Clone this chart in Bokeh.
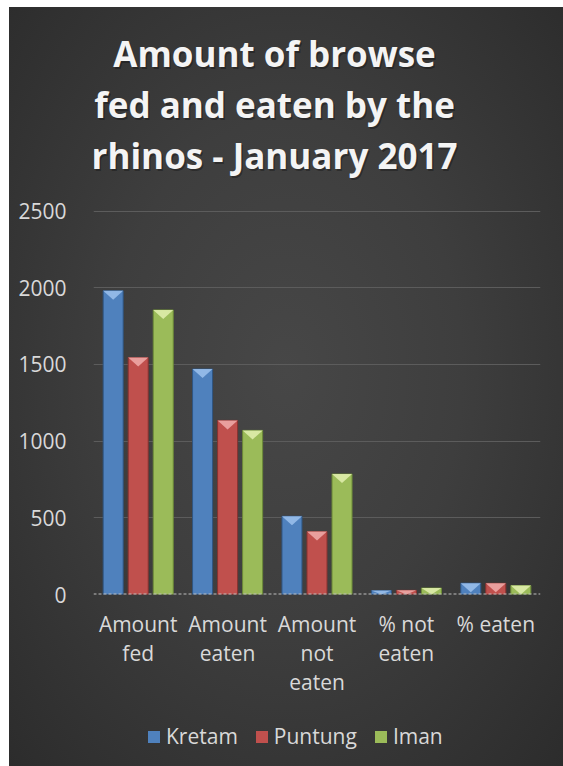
import numpy as np
from bokeh.plotting import figure
from bokeh.layouts import column
from bokeh.models import (Range1d, FixedTicker, Label, Legend, LegendItem, Span,
                          ColumnDataSource)
from bokeh.embed import file_html
from bokeh.resources import INLINE

# ---- data ----
categories = ["Amount\nfed", "Amount\neaten", "Amount\nnot\neaten", "% not\neaten", "% eaten"]
series = ["Kretam", "Puntung", "Iman"]
kretam = [1980, 1470, 510, 26, 74]
puntung = [1545, 1135, 410, 27, 73]
iman = [1855, 1070, 785, 42, 58]
y_ticks = [0, 500, 1000, 1500, 2000, 2500]
title_lines = ["Amount of browse", "fed and eaten by the", "rhinos - January 2017"]

# ---- style ----
FONT = "Open Sans"
BG_CSS = "radial-gradient(ellipse at 50% 48%, #474747 0%, #3e3e3e 45%, #2c2c2c 100%)"
TXT = "#d9d9d9"
fills = ["#4f81bd", "#c0504d", "#9bbb59"]
bevels = ["#95bbe8", "#eba3a1", "#dbeaa8"]
edges = ["#2f5582", "#873230", "#6c8a38"]
offsets = [-0.28, 0.0, 0.28]
BAR_W = 0.224
BEVEL_PX = 9
W = 554
TITLE_H, MAIN_H, LEG_H = 189, 516, 54

Y0, Y1 = 0, 2510
FRAME_H = 385


def bare(fig):
    fig.background_fill_color = None
    fig.border_fill_color = None
    fig.outline_line_color = None
    return fig


# ---- title figure ----
t = bare(figure(width=W, height=TITLE_H, x_range=Range1d(0, 1), y_range=Range1d(0, 1),
                output_backend="svg", toolbar_location=None, title=None,
                x_axis_location=None, y_axis_location=None, min_border=0))
t.grid.visible = False
for i, line in enumerate(title_lines):
    y = 143 - 51 * i
    t.add_layout(Label(x=182.5, y=y - 1.5, x_units="screen", y_units="screen",
                       text=line, text_align="center", text_baseline="alphabetic",
                       text_font_size="35px", text_font_style="bold",
                       text_color="#000000", text_alpha=0.3, text_font=FONT))
    t.add_layout(Label(x=181, y=y, x_units="screen", y_units="screen",
                       text=line, text_align="center", text_baseline="alphabetic",
                       text_font_size="35px", text_font_style="bold",
                       text_color="#f4f4f4", text_font=FONT))

# ---- main chart ----
p = bare(figure(width=W, height=MAIN_H, x_range=Range1d(-0.5, 4.5), y_range=Range1d(Y0, Y1),
                output_backend="svg", toolbar_location=None, title=None,
                min_border_left=84, min_border_right=23, min_border_top=13,
                min_border_bottom=118))

bevel_units = BEVEL_PX * (Y1 - Y0) / FRAME_H
xs_base = np.arange(len(categories))
for vals, off, fc, bc, ec in zip([kretam, puntung, iman], offsets, fills, bevels, edges):
    x = xs_base + off
    src = ColumnDataSource(dict(x=x, top=vals))
    p.vbar(x="x", top="top", width=BAR_W, source=src, fill_color=fc,
           line_color=ec, line_width=1)
    txs, tys = [], []
    for xi, v in zip(x, vals):
        txs.append([xi - BAR_W / 2, xi + BAR_W / 2, xi])
        tys.append([v, v, max(v - bevel_units, 0)])
    p.patches(txs, tys, fill_color=bc, line_color=None, fill_alpha=0.95)

p.add_layout(Span(location=0, dimension="width", line_color="#bdbdbd",
                  line_dash="3 2", line_width=2))

p.yaxis.ticker = FixedTicker(ticks=y_ticks)
p.ygrid.ticker = FixedTicker(ticks=y_ticks)
p.ygrid.grid_line_color = "#5c5c5c"
p.xgrid.visible = False
for ax in (p.xaxis[0], p.yaxis[0]):
    ax.axis_line_color = None
    ax.major_tick_line_color = None
    ax.minor_tick_line_color = None
    ax.major_label_text_color = TXT
    ax.major_label_text_font = FONT
    ax.major_label_text_font_size = "21px"
p.yaxis.major_label_standoff = 21
p.xaxis.ticker = FixedTicker(ticks=list(range(len(categories))))
p.xaxis.major_label_overrides = {i: c for i, c in enumerate(categories)}
p.xaxis.major_label_standoff = 9
p.xaxis.major_label_text_line_height = 1.04

# ---- legend figure ----
lg = bare(figure(width=W, height=LEG_H, x_range=Range1d(0, 1), y_range=Range1d(0, 1),
                 output_backend="svg", toolbar_location=None, title=None,
                 x_axis_location=None, y_axis_location=None, min_border=0))
lg.grid.visible = False
items = []
for s, fc in zip(series, fills):
    # zero-size proxy renderer so the legend can draw a swatch
    r = lg.vbar(x=[0], top=[0], width=0, fill_color=fc, line_color=None)
    items.append(LegendItem(label=s, renderers=[r]))
legend = Legend(items=items, orientation="horizontal", location=(53, 16), padding=0,
                margin=0, spacing=16, glyph_width=15, glyph_height=15, label_standoff=5,
                label_text_font_size="21px", label_text_color=TXT, label_text_font=FONT,
                background_fill_alpha=0, border_line_alpha=0)
lg.add_layout(legend)

layout = column(t, p, lg, spacing=0)
layout.margin = (7, 0, 0, 9)
layout.styles = {"background": BG_CSS}

open("out.html", "w").write(file_html(layout, INLINE))
